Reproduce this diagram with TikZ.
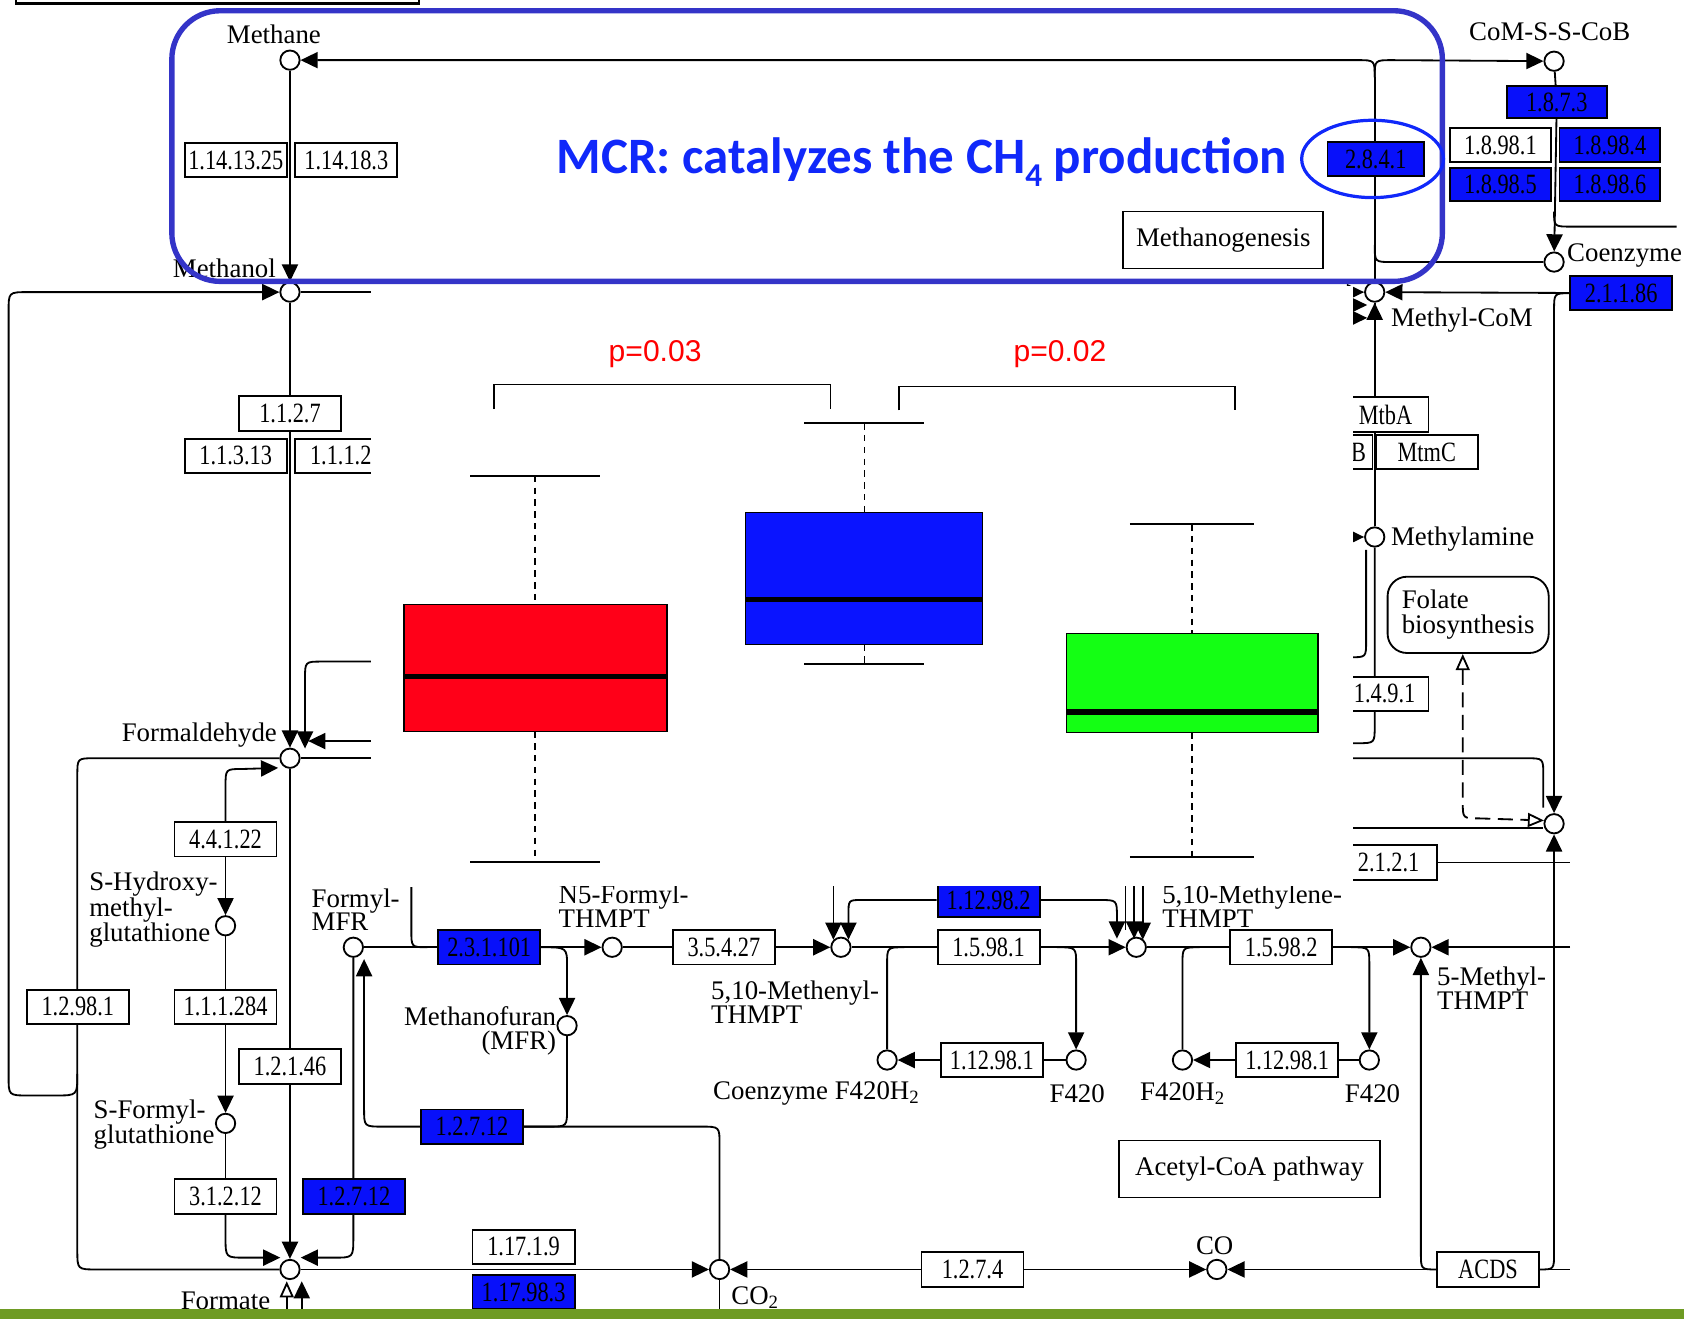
\documentclass[tikz,border=0pt]{standalone}
\usepackage{fontspec}
\usetikzlibrary{arrows.meta}
\newfontfamily\kegg{Liberation Serif}
\newfontfamily\keggn[FakeStretch=0.8]{Liberation Serif}
\newfontfamily\mcrfont{Carlito}
\newfontfamily\pfont{Liberation Sans}
\definecolor{keggblue}{RGB}{8,16,250}
\definecolor{mcrframe}{RGB}{52,52,200}
\definecolor{mcrtext}{RGB}{16,40,250}
\definecolor{bpred}{RGB}{255,0,24}
\definecolor{bpblue}{RGB}{10,20,255}
\definecolor{bpgreen}{RGB}{20,255,20}
\definecolor{greenbar}{RGB}{110,155,35}
\definecolor{pred}{RGB}{255,0,0}
\pgfdeclarelayer{bg}
\pgfdeclarelayer{ov}
\pgfsetlayers{bg,main,ov}
\tikzset{
  link/.style={line width=1.7pt, black},
  arr/.style={link, -{Triangle[length=16pt,width=15pt]}},
  oarr/.style={link, -{Triangle[open,length=15pt,width=13pt]}},
  cpd/.style={circle, draw, fill=white, minimum size=18pt, inner sep=0pt, line width=1.7pt},
  ec/.style={draw, fill=white, line width=1.7pt, minimum width=95pt, minimum height=32pt, inner sep=0pt, font=\keggn\fontsize{26}{26}\selectfont},
  ecb/.style={ec, fill=keggblue},
  lbl/.style={inner sep=0pt, font=\kegg\fontsize{25}{22}\selectfont, align=left},
  mapbox/.style={draw, fill=white, line width=1.7pt, inner sep=0pt, font=\kegg\fontsize{25}{23}\selectfont, align=left},
  whisk/.style={line width=1.3pt, dash pattern=on 6pt off 5pt},
  capline/.style={line width=1.8pt},
  bpbox/.style={line width=1.4pt},
  median/.style={line width=5pt},
}
\begin{document}
\begin{tikzpicture}[x=1pt,y=-1pt]
\useasboundingbox (0,0) rectangle (1568,1228);
% ---------------- compounds
\node[cpd] (methane) at (270,56) {};
\node[cpd] (comssc) at (1447,57) {};
\node[cpd] (coenzm) at (1447,244) {};
\node[cpd] (methanol) at (270,272) {};
\node[cpd] (methylcom) at (1280,272) {};
\node[cpd] (methylamine) at (1280,500) {};
\node[cpd] (formald) at (270,706) {};
\node[cpd] (thmptr) at (1447,767) {};
\node[cpd] (shmg) at (210,862) {};
\node[cpd] (formylmfr) at (329,882) {};
\node[cpd] (nfive) at (570,882) {};
\node[cpd] (methenyl) at (783,882) {};
\node[cpd] (methylene) at (1058,882) {};
\node[cpd] (methylthmpt) at (1323,882) {};
\node[cpd] (mfr) at (528,955) {};
\node[cpd] (fhtwoa) at (826,987) {};
\node[cpd] (fa) at (1002,987) {};
\node[cpd] (fhtwob) at (1101,987) {};
\node[cpd] (fb) at (1275,987) {};
\node[cpd] (sfg) at (210,1046) {};
\node[cpd] (formate) at (270,1182) {};
\node[cpd] (cotwo) at (670,1182) {};
\node[cpd] (co) at (1133,1182) {};
% ---------------- enzyme boxes
\node[ec] (e1) at (219.5,149) {1.14.13.25};
\node[ec] (e2) at (322.5,149) {1.14.18.3};
\node[ecb, minimum width=90pt] (e2841) at (1281,148) {2.8.4.1};
\node[ecb, minimum width=93pt, minimum height=30pt] (e1873) at (1449.5,95) {1.8.7.3};
\node[ec, minimum width=94pt, minimum height=31pt] (e18981) at (1397,135) {1.8.98.1};
\node[ecb, minimum width=94pt, minimum height=31pt] (e18984) at (1499,135) {1.8.98.4};
\node[ecb, minimum width=94pt, minimum height=31pt] (e18985) at (1397,172) {1.8.98.5};
\node[ecb, minimum width=94pt, minimum height=31pt] (e18986) at (1499,172) {1.8.98.6};
\node[mapbox, minimum width=186pt, minimum height=53pt] (mapmeth) at (1139,223.5) {Methanogenesis};
\node[ecb] (e21186) at (1509.5,273) {2.1.1.86};
\node[ec] (e1127) at (270,385) {1.1.2.7};
\node[ec] (e11313) at (219.5,424.5) {1.1.3.13};
\node[ec] (e11124) at (322.5,424.5) {1.1.1.24};
\node[ec, minimum width=80pt] (mtba) at (1290,386) {MtbA};
\node[ec] (mtmb) at (1230.5,421) {};
\node[inner sep=0pt, anchor=east, font=\keggn\fontsize{26}{26}\selectfont] (lmtmb) at (1272,421) {MtmB};
\node[ec] (mtmc) at (1328.5,421) {MtmC};
\node[ec] (e491) at (1282.5,646) {};
\node[inner sep=0pt, anchor=east, font=\keggn\fontsize{26}{26}\selectfont] (le491) at (1318,646) {1.4.9.1};
\node[ec, minimum width=90pt] (e2121) at (1293,803) {2.1.2.1};
\node[mapbox, rounded corners=18pt, minimum width=150pt, minimum height=71pt] (folate) at (1367,572.5) {Folate\\biosynthesis};
\node[ec] (e44122) at (210,781.5) {4.4.1.22};
\node[ec] (e12981) at (72.5,937.5) {1.2.98.1};
\node[ec] (e111284) at (210,937.5) {1.1.1.284};
\node[ec] (e12146) at (270,993) {1.2.1.46};
\node[ec] (e31212) at (210,1114) {3.1.2.12};
\node[ecb] (e12712a) at (329.5,1114) {1.2.7.12};
\node[ecb] (e12712b) at (439.5,1049) {1.2.7.12};
\node[ecb] (e231101) at (455.5,882) {2.3.1.101};
\node[ec] (e35427) at (674,882) {3.5.4.27};
\node[ec] (e15981) at (920.5,882) {1.5.98.1};
\node[ec] (e15982) at (1193,882) {1.5.98.2};
\node[ecb] (e112982) at (920.5,838) {1.12.98.2};
\node[ec] (e112981a) at (923.5,987) {1.12.98.1};
\node[ec] (e112981b) at (1198.5,987) {1.12.98.1};
\node[mapbox, minimum width=243pt, minimum height=53pt] (mapacetyl) at (1163.5,1088.5) {Acetyl-CoA pathway};
\node[ec] (e11719) at (487.5,1161) {1.17.1.9};
\node[ecb] (e117983) at (487.5,1203) {1.17.98.3};
\node[ec] (e1274) at (905.5,1182) {1.2.7.4};
\node[ec] (acds) at (1385.5,1182) {ACDS};
% ---------------- labels
\node[lbl] (lmethane) at (255,32) {Methane};
\node[lbl] (lcomssc) at (1443,30) {CoM-S-S-CoB};
\node[lbl, anchor=west] (lcoenzm) at (1459,238) {Coenzyme};
\node[lbl, anchor=east] (lmethanol) at (257,250) {Methanol};
\node[lbl, anchor=west] (lmethylcom) at (1295,298) {Methyl-CoM};
\node[lbl, anchor=west] (lmethylamine) at (1295,502) {Methylamine};
\node[lbl, anchor=east] (lformald) at (258,684) {Formaldehyde};
\node[lbl, anchor=west] (lshmg) at (83,847) {S-Hydroxy-\\methyl-\\glutathione};
\node[lbl, anchor=west] (lsfg) at (87,1047) {S-Formyl-\\glutathione};
\node[lbl, anchor=west] (lformylmfr) at (290,847) {Formyl-\\MFR};
\node[lbl, anchor=west] (lnfive) at (520,844) {N5-Formyl-\\THMPT};
\node[lbl, anchor=west] (lmethenyl) at (662,933) {5,10-Methenyl-\\THMPT};
\node[lbl, anchor=west] (lmethylene) at (1082,844) {5,10-Methylene-\\THMPT};
\node[lbl, anchor=west] (lmethylthmpt) at (1338,920) {5-Methyl-\\THMPT};
\node[lbl, anchor=east, align=right] (lmfr) at (518,960) {Methanofuran\\(MFR)};
\node[lbl] (lfhtwoa) at (760,1018) {Coenzyme F420H\textsubscript{2}};
\node[lbl] (lfa) at (1003,1018) {F420};
\node[lbl] (lfhtwob) at (1101,1018) {F420H\textsubscript{2}};
\node[lbl] (lfb) at (1278,1018) {F420};
\node[lbl] (lformate) at (210,1211) {Formate};
\node[lbl] (lcotwo) at (703,1208) {CO\textsubscript{2}};
\node[lbl] (lco) at (1131,1160) {CO};
% ---------------- connectors
\begin{pgfonlayer}{bg}
\coordinate (jtop) at (1280,72);
\draw[arr] (jtop) .. controls (1280,56) .. (1264,56) -- (methane);
\draw[arr] (jtop) .. controls (1280,56) .. (1296,56) -- (comssc);
\draw[link] (jtop) -- (methylcom);
\coordinate (jbot) at (1280,228);
\draw[link] (jbot) .. controls (1280,244) .. (1296,244) -- (coenzm);
\draw[link] (comssc) -- (e1873);
\draw[arr] (e1873) -- (coenzm);
\coordinate (jcs) at (1447,197);
\coordinate (jcoenr) at (1561,211);
\draw[link] (jcs) .. controls (1447,211) .. (1463,211) -- (jcoenr);
\draw[arr] (e21186) -- (methylcom);
\coordinate (jr) at (1462,273);
\draw[arr] (jr) .. controls (1447,273) .. (1447,289) -- (thmptr);
\coordinate (ml1) at (1200,272);
\draw[arr] (ml1) -- (methylcom);
\coordinate (ml2s) at (1200,284); \coordinate (ml2) at (1273,284);
\draw[arr] (ml2s) -- (ml2);
\coordinate (ml3s) at (1200,296); \coordinate (ml3) at (1273,296);
\draw[arr] (ml3s) -- (ml3);
\draw[arr] (mtba.north -| methylcom) -- (methylcom);
\draw[link] (methylcom) -- (methylamine);
\coordinate (mam) at (1220,500);
\draw[arr] (mam) -- (methylamine);
\coordinate (j491) at (1240,692);
\draw[link] (methylamine) -- (1280,676) .. controls (1280,692) .. (1264,692) -- (j491);
\coordinate (ja72) at (1272,512); \coordinate (jb72) at (1240,612);
\draw[link] (ja72) -- (1272,597) .. controls (1272,612) .. (1257,612) -- (jb72);
\coordinate (fd) at (1362,609);
\draw[link, dash pattern=on 14pt off 7pt, {Triangle[open,length=15pt,width=13pt]}-{Triangle[open,length=15pt,width=13pt]}] (fd) -- (1362,747) .. controls (1362,762) .. (1377,762) -- (thmptr.162);
\coordinate (h706) at (1240,706); \coordinate (e752) at (1437,752);
\draw[link] (h706) -- (1421,706) .. controls (1437,706) .. (1437,722) -- (e752);
\coordinate (h771) at (1240,771);
\draw[link] (h771) -- (thmptr.west |- h771);
\coordinate (r803) at (1462,803);
\draw[link] (e2121) -- (r803);
\draw[arr] (acds.east) .. controls (1447,1182) .. (1447,1166) -- (thmptr);
\draw[arr] (acds.west) .. controls (1323,1182) .. (1323,1166) -- (methylthmpt);
\draw[arr] (acds) -- (co);
\coordinate (r1182) at (1462,1182);
\draw[link] (acds) -- (r1182);
\coordinate (r882) at (1462,882);
\draw[arr] (r882) -- (methylthmpt);
\draw[arr] (e15982) -- (methylthmpt);
% left column
\draw[arr] (methane) -- (methanol);
\coordinate (lp) at (72,1000);
\draw[arr] (lp) .. controls (72,1020) .. (52,1020) -- (26,1020) .. controls (8,1020) .. (8,1002) -- (8,290) .. controls (8,272) .. (26,272) -- (methanol);
\coordinate (m345) at (400,272);
\draw[link] (methanol) -- (m345);
\draw[arr] (methanol) -- (formald);
\coordinate (f616) at (400,616); \coordinate (f697) at (284,697);
\draw[arr] (f616) -- (300,616) .. controls (284,616) .. (284,632) -- (f697);
\coordinate (f690s) at (400,690); \coordinate (f690) at (287,690);
\draw[arr] (f690s) -- (f690);
\coordinate (f706) at (400,706);
\draw[link] (formald) -- (f706);
\draw[link] (formald) -- (88,706) .. controls (72,706) .. (72,722) -- (72,1164) .. controls (72,1182) .. (90,1182) -- (formate);
\draw[arr] (e44122) -- (shmg);
\coordinate (f716) at (259,715);
\draw[arr] (e44122) -- (210,732) .. controls (210,716) .. (226,716) -- (f716);
\draw[arr] (shmg) -- (sfg);
\draw[link] (sfg) -- (e31212);
\coordinate (fm1) at (261,1171);
\draw[arr] (e31212) -- (210,1152) .. controls (210,1171) .. (228,1171) -- (fm1);
\coordinate (fm2) at (280,1171);
\draw[arr] (formylmfr) -- (329,1152) .. controls (329,1171) .. (311,1171) -- (fm2);
\draw[arr] (formald) -- (formate);
\coordinate (fup) at (339,893);
\draw[arr] (e12712b) -- (356,1049) .. controls (339,1049) .. (339,1032) -- (fup);
\draw[link] (formylmfr) -- (e231101);
\draw[arr] (e231101) -- (nfive);
\coordinate (f383) at (383,826); \coordinate (f383e) at (398,882);
\draw[link] (f383) -- (383,866) .. controls (383,882) .. (f383e);
\draw[arr] (e231101.east) .. controls (528,882) .. (528,900) -- (mfr);
\draw[link] (mfr) -- (528,1032) .. controls (528,1049) .. (511,1049) -- (e12712b);
\draw[link] (e12712b) -- (653,1049) .. controls (670,1049) .. (670,1066) -- (cotwo);
\coordinate (cobot) at (670,1228);
\draw[link] (cotwo) -- (cobot);
% middle row
\draw[link] (nfive) -- (e35427);
\draw[arr] (e35427) -- (methenyl);
\draw[link] (methenyl) -- (e15981);
\draw[arr] (e15981) -- (methylene);
\draw[link] (methylene) -- (e15982);
\coordinate (t775) at (776,820); \coordinate (t775e) at (776,875);
\draw[arr] (t775) -- (t775e);
\coordinate (t790e) at (790,875);
\draw[arr] (e112982) -- (802,838) .. controls (790,838) .. (790,852) -- (t790e);
\coordinate (t1040e) at (1040,874);
\draw[arr] (e112982) -- (1024,838) .. controls (1040,838) .. (1040,854) -- (t1040e);
\coordinate (t1048) at (1048,820); \coordinate (t1048e) at (1048,866);
\draw[link] (t1048) -- (t1048e);
\coordinate (t1056) at (1056,820); \coordinate (t1056e) at (1056,874);
\draw[arr] (t1056) -- (t1056e);
\coordinate (t1064) at (1064,820); \coordinate (t1064e) at (1064,875);
\draw[arr] (t1064) -- (t1064e);
\coordinate (ja) at (984,882);
\draw[arr] (ja) .. controls (1002,882) .. (1002,898) -- (fa);
\draw[link] (fa) -- (e112981a);
\draw[arr] (e112981a) -- (fhtwoa);
\coordinate (jb) at (842,882);
\draw[link] (fhtwoa) -- (826,898) .. controls (826,882) .. (jb);
\coordinate (jc) at (1258,882);
\draw[arr] (jc) .. controls (1275,882) .. (1275,898) -- (fb);
\draw[link] (fb) -- (e112981b);
\draw[arr] (e112981b) -- (fhtwob);
\coordinate (jd) at (1117,882);
\draw[link] (fhtwob) -- (1101,898) .. controls (1101,882) .. (jd);
% bottom row
\draw[arr] (formate) -- (cotwo);
\draw[arr] (e1274) -- (cotwo);
\draw[arr] (e1274) -- (co);
\coordinate (fo1) at (267,1228); \coordinate (fo1e) at (267,1193);
\draw[oarr] (fo1) -- (fo1e);
\coordinate (fo2) at (281,1228); \coordinate (fo2e) at (281,1193);
\draw[arr] (fo2) -- (fo2e);
\end{pgfonlayer}
% ---------------- overlay
\begin{pgfonlayer}{ov}
\fill[white] (345,266) rectangle (1260,825);
\draw[line width=1.2pt] (460,381) -- (460,358) -- (773,358) -- (773,381);
\draw[line width=1.2pt] (837,382) -- (837,360) -- (1150,360) -- (1150,382);
\node[text=pred, font=\pfont\fontsize{28}{28}\selectfont] (pone) at (610,330) {p=0.03};
\node[text=pred, font=\pfont\fontsize{28}{28}\selectfont] (ptwo) at (987,330) {p=0.02};
% red
\draw[whisk] (498,443) -- (498,563);
\draw[whisk] (498,681) -- (498,803);
\draw[capline] (438,443) -- (559,443);
\draw[capline] (438,803) -- (559,803);
\draw[bpbox, fill=bpred] (376,563) rectangle (621,681);
\draw[median] (376,630) -- (621,630);
% blue
\draw[whisk] (805,394) -- (805,477);
\draw[whisk] (805,600) -- (805,618);
\draw[capline] (749,394) -- (860,394);
\draw[capline] (749,618) -- (860,618);
\draw[bpbox, fill=bpblue] (694,477) rectangle (915,600);
\draw[median] (694,558) -- (915,558);
% green
\draw[whisk] (1110,488) -- (1110,590);
\draw[whisk] (1110,682) -- (1110,798);
\draw[capline] (1052,488) -- (1168,488);
\draw[capline] (1052,798) -- (1168,798);
\draw[bpbox, fill=bpgreen] (993,590) rectangle (1227,682);
\draw[median] (993,663) -- (1227,663);
% MCR frame and text
\draw[mcrframe, line width=5pt, rounded corners=45pt] (160,10) rectangle (1343,262);
\draw[mcrtext, line width=3pt] (1278,148) ellipse [x radius=66pt, y radius=36pt];
\node[anchor=base west, text=mcrtext, font=\mcrfont\bfseries\fontsize{47.5}{47.5}\selectfont, inner sep=0pt] (mcr) at (518,162) {MCR: catalyzes the CH\raisebox{-0.25em}{\fontsize{31}{31}\selectfont 4} production};
\draw[line width=2.5pt] (15,-2) -- (15,3) -- (390,3) -- (390,-2);
\fill[greenbar] (0,1219) rectangle (1568,1228);
\end{pgfonlayer}
\end{tikzpicture}
\end{document}
